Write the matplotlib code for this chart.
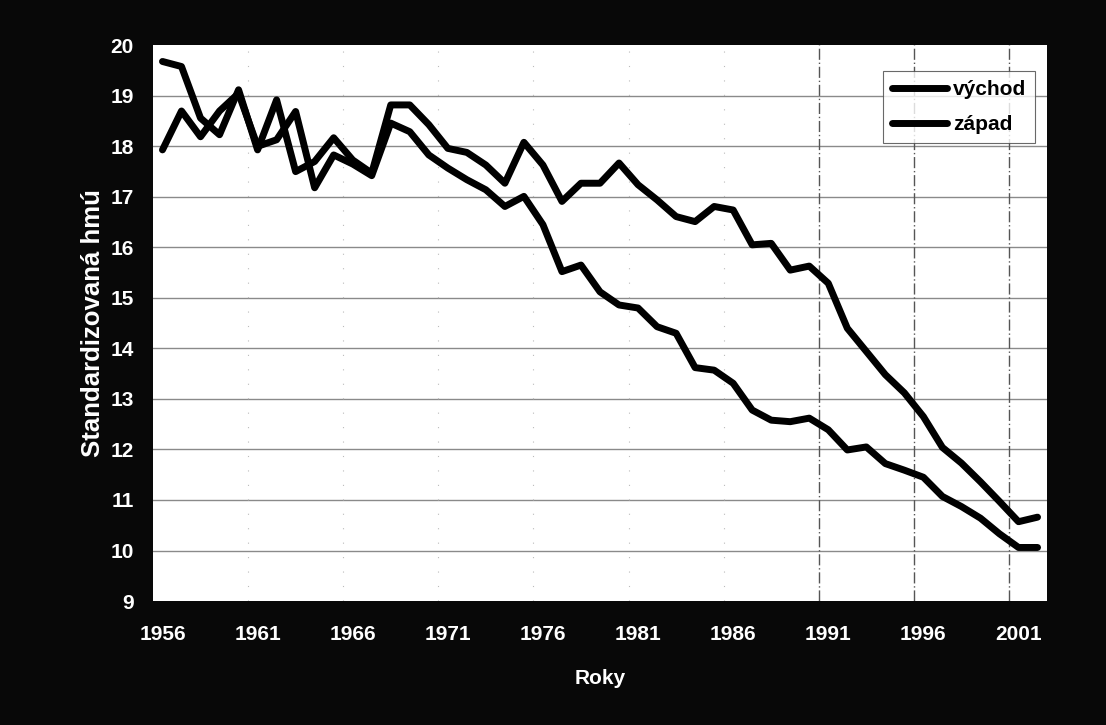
import matplotlib
matplotlib.use("Agg")
import matplotlib.pyplot as plt

# years on the category axis
years = list(range(1956, 2003))

# standardised values
vychod = [19.68, 19.58, 18.56, 18.23, 19.12, 17.93, 18.92, 17.50, 17.70, 18.17,
          17.73, 17.47, 18.82, 18.82, 18.43, 17.96, 17.88, 17.63, 17.27, 18.08,
          17.63, 16.91, 17.27, 17.27, 17.67, 17.24, 16.94, 16.61, 16.51, 16.81,
          16.74, 16.05, 16.08, 15.55, 15.63, 15.29, 14.40, 13.94, 13.48, 13.12,
          12.65, 12.04, 11.73, 11.36, 10.97, 10.57, 10.66]
zapad = [17.93, 18.70, 18.19, 18.70, 19.05, 18.00, 18.13, 18.69, 17.18, 17.83,
         17.65, 17.42, 18.46, 18.29, 17.83, 17.57, 17.34, 17.14, 16.81, 17.01,
         16.45, 15.52, 15.65, 15.12, 14.86, 14.80, 14.43, 14.30, 13.62, 13.57,
         13.31, 12.78, 12.58, 12.55, 12.62, 12.39, 11.99, 12.05, 11.72, 11.59,
         11.45, 11.07, 10.87, 10.64, 10.33, 10.06, 10.06]

series_labels = ["východ", "západ"]
y_ticks = list(range(9, 21))
x_tick_years = years[::5]

plt.rcParams['font.family'] = ['Liberation Sans', 'DejaVu Sans']
plt.rcParams['font.weight'] = 'bold'

fig = plt.figure(figsize=(11.06, 7.25), dpi=100)
fig.patch.set_facecolor('#080808')
ax = fig.add_axes([0.1383, 0.171, 0.8084, 0.7665])
ax.set_facecolor('white')

# horizontal gridlines
for v in y_ticks[1:-1]:
    ax.axhline(v, color='#8a8a8a', lw=1.0, zorder=1)

# vertical gridlines sit between categories, every 5th
for i in range(5, len(years), 5):
    xb = years[i] - 0.5
    if xb > 1988:
        ax.axvline(xb, color='#555555', lw=1.0, ls=(0, (8, 2, 1, 2)), zorder=1)
    else:
        ax.axvline(xb, color='#bbbbbb', lw=0.8, ls=(0, (1, 12)), zorder=1)

ax.plot(years, vychod, color='black', lw=5, solid_capstyle='round',
        solid_joinstyle='round', label=series_labels[0], zorder=3)
ax.plot(years, zapad, color='black', lw=5, solid_capstyle='round',
        solid_joinstyle='round', label=series_labels[1], zorder=3)

ax.set_xlim(years[0] - 0.5, years[-1] + 0.5)
ax.set_ylim(y_ticks[0], y_ticks[-1])
ax.set_yticks(y_ticks)
ax.set_xticks(x_tick_years)
ax.set_xticklabels([str(y) for y in x_tick_years])
ax.tick_params(axis='both', colors='white', labelsize=15, length=0)
ax.tick_params(axis='x', pad=17)
ax.tick_params(axis='y', pad=14)
for lab in ax.get_xticklabels() + ax.get_yticklabels():
    lab.set_fontweight('bold')
for s in ax.spines.values():
    s.set_visible(False)

ax.set_xlabel('Roky', color='white', fontsize=15, fontweight='bold', labelpad=18)
ax.set_ylabel('Standardizovaná hmú', color='white', fontsize=18.5,
              fontweight='bold', labelpad=4)

leg = ax.legend(loc='upper right', bbox_to_anchor=(0.987, 0.954),
                fontsize=15, frameon=True, fancybox=False,
                handlelength=2.6, handletextpad=0.3, labelspacing=0.75,
                borderpad=0.45, borderaxespad=0)
leg.get_frame().set_edgecolor('#444444')
leg.get_frame().set_linewidth(0.8)
for t in leg.get_texts():
    t.set_fontweight('bold')

plt.savefig('out.png', dpi=100, facecolor=fig.get_facecolor())
